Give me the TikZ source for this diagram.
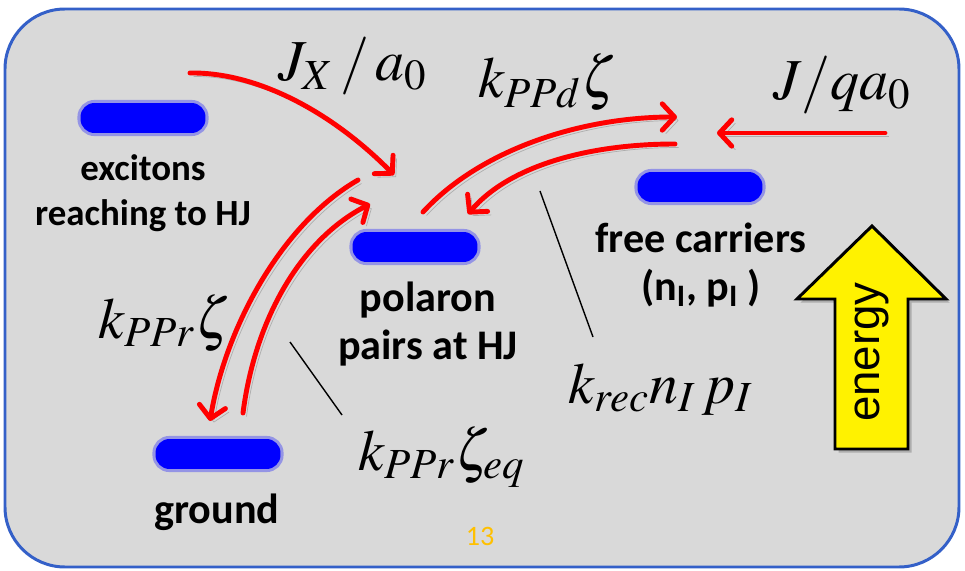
\documentclass[tikz,border=0pt]{standalone}
\usepackage{mathptmx}
\usepackage[no-math]{fontspec}
\setmainfont{Carlito}
\newfontfamily\arialfont{Liberation Sans}
\usetikzlibrary{positioning, calc, arrows.meta}

\definecolor{panelgray}{HTML}{D9D9D9}
\definecolor{frameblue}{HTML}{3460C8}
\definecolor{slideno}{HTML}{FFC000}

\begin{document}
\begin{tikzpicture}[x=0.02cm, y=-0.02cm,
levelbar/.style={fill=blue, rounded corners=0.28cm, minimum width=2.5cm, minimum height=0.6cm, inner sep=0pt, preaction={draw=blue!70!panelgray, line width=3.5pt, opacity=0.45}},
statelabel/.style={font=\bfseries\fontsize{24}{27.5}\selectfont, align=center, inner sep=0pt},
rate/.style={font=\fontsize{33}{38}\selectfont, inner sep=0pt, anchor=base west},
flow/.style={draw=red, line width=2.8pt, line cap=round, -{Straight Barb[length=7pt, width=15pt, round]}, preaction={draw=black, opacity=0.2, transform canvas={shift={(2pt,-2pt)}}}},
pointer/.style={draw=black, line width=0.8pt}]
    \useasboundingbox (0,0) rectangle (965,571);
    \draw[frameblue, fill=panelgray, line width=1.7pt, rounded corners=1.2cm] (5,9) rectangle (959,567);

    % energy levels
    \node[levelbar] (exc) at (143,118) {};
    \node[levelbar] (pol) at (415,247) {};
    \node[levelbar] (free) at (700,187) {};
    \node[levelbar] (gnd) at (218,454) {};

    \node[statelabel, font=\bfseries\fontsize{21}{25.5}\selectfont] (excl) at (143,193) {excitons\\reaching to HJ};
    \node[statelabel] (poll) at (428,324) {polaron\\pairs at HJ};
    \node[statelabel] (freel) at (701,265) {free carriers\\(n\textsubscript{I}, p\textsubscript{I} )};
    \node[statelabel, anchor=base] (gndl) at (217,523) {ground};

    % rates
    \node[rate] (jx) at (278,81) {$J_X\,/\,a_0$};
    \node[rate] (kd) at (478,98) {$k_{PPd}\zeta$};
    \node[rate] (jq) at (773,100) {$J/qa_0$};
    \node[rate] (kr) at (98,338) {$k_{PPr}\zeta$};
    \node[rate] (keq) at (358,470) {$k_{PPr}\zeta_{eq}$};
    \node[rate] (krec) at (568,403) {$k_{rec}n_I\,p_I$};

    % arrow ends
    \coordinate (jxs) at (190,73);
    \coordinate (jxe) at (394,175);
    \coordinate (dns) at (358,180);
    \coordinate (dne) at (210,421);
    \coordinate (ups) at (243,413);
    \coordinate (upe) at (370,204);
    \coordinate (dis) at (423,212);
    \coordinate (die) at (677,117);
    \coordinate (bks) at (675,144);
    \coordinate (bke) at (468,214);
    \coordinate (jqs) at (885,133);
    \coordinate (jqe) at (717,133);

    \draw[flow] (jxs) .. controls (260,72) and (335,115) .. (jxe);
    \draw[flow] (dns) .. controls (280,225) and (225,330) .. (dne);
    \draw[flow] (ups) .. controls (255,320) and (300,240) .. (upe);
    \draw[flow] (dis) .. controls (480,150) and (580,117) .. (die);
    \draw[flow] (bks) .. controls (590,144) and (510,165) .. (bke);
    \draw[flow] (jqs) -- (jqe);

    % pointers to the rate labels
    \coordinate (pa) at (540,191);
    \coordinate (pb) at (593,337);
    \coordinate (qa) at (290,342);
    \coordinate (qb) at (342,415);
    \draw[pointer] (pa) -- (pb);
    \draw[pointer] (qa) -- (qb);

    % energy axis
    \draw[fill=yellow, line width=1.7pt, line join=miter, preaction={fill=black, opacity=0.2, transform canvas={shift={(2pt,-2pt)}}}]
        (835,449) -- (835,299) -- (797,299) -- (872,226) -- (946,299) -- (908,299) -- (908,449) -- cycle;
    \node[rotate=90, font=\arialfont\fontsize{26}{30}\selectfont] (energy) at (872,352) {energy};

    \node[font=\fontsize{16}{19}\selectfont, text=slideno] (page) at (480,536) {13};
\end{tikzpicture}
\end{document}
